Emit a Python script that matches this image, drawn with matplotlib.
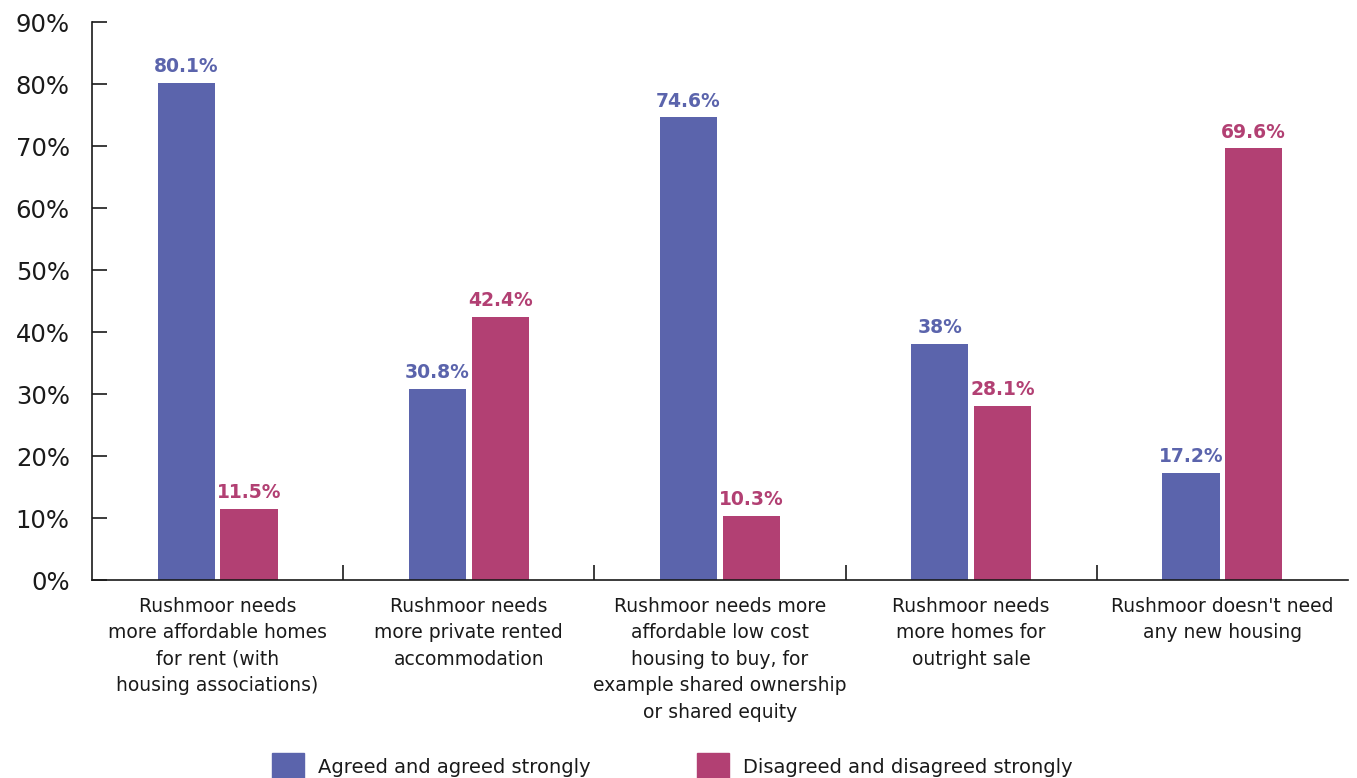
import matplotlib
matplotlib.use("Agg")
import matplotlib.pyplot as plt
from matplotlib.patches import Patch
import numpy as np

categories = [
    "Rushmoor needs\nmore affordable homes\nfor rent (with\nhousing associations)",
    "Rushmoor needs\nmore private rented\naccommodation",
    "Rushmoor needs more\naffordable low cost\nhousing to buy, for\nexample shared ownership\nor shared equity",
    "Rushmoor needs\nmore homes for\noutright sale",
    "Rushmoor doesn't need\nany new housing",
]
agreed = [80.1, 30.8, 74.6, 38, 17.2]
disagreed = [11.5, 42.4, 10.3, 28.1, 69.6]
series_names = ["Agreed and agreed strongly", "Disagreed and disagreed strongly"]
yticks = [0, 10, 20, 30, 40, 50, 60, 70, 80, 90]

BLUE = "#5B64AC"
PINK = "#B24073"
TXT = "#1a1a1a"

plt.rcParams['font.family'] = ['DejaVu Sans']

fig = plt.figure(figsize=(13.57, 7.78), dpi=100)
ax = fig.add_axes([92/1357, 1-580/778, (1348-92)/1357, (580-22)/778])

x = np.arange(len(categories))
w = 0.227
off = 0.125
b1 = ax.bar(x - off, agreed, width=w, color=BLUE)
b2 = ax.bar(x + off, disagreed, width=w, color=PINK)
ax.bar_label(b1, labels=[f"{v:g}%" for v in agreed], padding=5, color=BLUE,
             fontsize=13.5, fontweight='bold')
ax.bar_label(b2, labels=[f"{v:g}%" for v in disagreed], padding=5, color=PINK,
             fontsize=13.5, fontweight='bold')

ax.set_xlim(-0.5, len(categories) - 0.5)
ax.set_ylim(0, 90)
ax.set_yticks(yticks)
ax.set_yticklabels([f"{v}%" for v in yticks], fontsize=17.5, color=TXT)
ax.tick_params(axis='y', direction='in', length=11, width=1.2, pad=16, color=TXT)

ax.set_xticks(x[:-1] + 0.5)
ax.set_xticklabels([])
ax.tick_params(axis='x', which='major', direction='in', length=11, width=1.2, color=TXT)
ax.set_xticks(x, minor=True)
ax.set_xticklabels(categories, minor=True, fontsize=13.5, color=TXT, linespacing=1.5)
ax.tick_params(axis='x', which='minor', length=0, pad=12)

for s in ['top', 'right']:
    ax.spines[s].set_visible(False)
for s in ['left', 'bottom']:
    ax.spines[s].set_linewidth(1.2)
    ax.spines[s].set_color(TXT)

handles = [Patch(color=BLUE), Patch(color=PINK)]
fig.legend(handles, series_names, loc='lower left', bbox_to_anchor=(272/1357, -1/778),
           ncol=2, frameon=False, fontsize=14, handlelength=1.65, handleheight=1.65,
           handletextpad=0.7, columnspacing=5.5, labelcolor=TXT, borderaxespad=0,
           borderpad=0)

fig.savefig("out.png", dpi=100)
